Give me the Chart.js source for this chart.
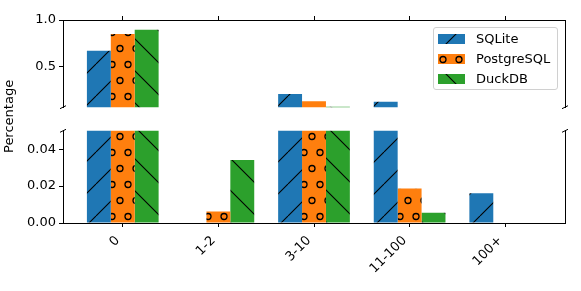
<!DOCTYPE html>
<html lang="en">
<head>
<meta charset="UTF-8">
<title>Percentage by bucket</title>
<script src="https://cdn.jsdelivr.net/npm/chart.js"></script>
<style>
    body { margin: 0; background: #fff; font-family: "DejaVu Sans", sans-serif; }
    #wrap { position: relative; width: 581px; height: 291px; overflow: hidden; }
    canvas.panel { position: absolute; left: 0; }
    #topChart { top: 0; }
    #bottomChart { top: 120px; }
    #ylabel {
        position: absolute; left: 1px; top: 78px; height: 76px; width: 16px;
        writing-mode: vertical-rl; transform: rotate(180deg);
        text-align: center; line-height: 16px;
        font-size: 13px; white-space: nowrap; color: #000; font-weight: normal;
    }
    #legend {
        position: absolute; left: 433px; top: 27px; width: 125px; height: 63px;
        box-sizing: border-box; border: 1px solid #d0d0d0; border-radius: 3px;
        background: rgba(255, 255, 255, 0.85); z-index: 2;
    }
    .item { position: absolute; left: 4px; height: 20px; display: flex; align-items: center; font-size: 13px; color: #000; }
    .swatch { width: 27px; height: 10px; margin-right: 11px; }
</style>
</head>
<body>
<div id="wrap">
    <canvas id="topChart" class="panel" width="581" height="118"></canvas>
    <canvas id="bottomChart" class="panel" width="581" height="171"></canvas>
    <div id="ylabel">Percentage</div>
    <div id="legend"></div>
</div>

<script>
    // data
    const categories = ['0', '1-2', '3-10', '11-100', '100+'];
    const sqlite   = [0.672, 0, 0.21, 0.127, 0.0162];
    const postgres = [0.85, 0.0062, 0.133, 0.0187, 0];
    const duckdb   = [0.897, 0.0341, 0.076, 0.0055, 0];
    const topTicks = [0.5, 1.0];
    const bottomTicks = [0, 0.02, 0.04];
    const topRange = [0.07, 1.0];
    const bottomRange = [0, 0.05];

    Chart.defaults.font.family = 'DejaVu Sans';
    Chart.defaults.font.size = 13;
    Chart.defaults.color = '#000';

    // hatch tiles, like matplotlib '/', 'o' and '\\'
    function makeTile(color, kind) {
        const c = document.createElement('canvas');
        c.width = kind === 'o' ? 16 : 32;
        c.height = 32;
        const g = c.getContext('2d');
        g.fillStyle = color;
        g.fillRect(0, 0, c.width, c.height);
        g.strokeStyle = '#000';
        g.lineWidth = 1.1;
        if (kind === '/') {
            for (const o of [-32, 0, 32]) {
                g.beginPath(); g.moveTo(o, 32); g.lineTo(o + 32, 0); g.stroke();
            }
        } else if (kind === '\\') {
            for (const o of [-32, 0, 32]) {
                g.beginPath(); g.moveTo(o, 0); g.lineTo(o + 32, 32); g.stroke();
            }
        } else {
            g.lineWidth = 1.3;
            for (const [cx, cy] of [[8, 16.5], [0, 0.5], [16, 0.5], [0, 32.5], [16, 32.5]]) {
                g.beginPath(); g.arc(cx, cy, 3, 0, Math.PI * 2); g.stroke();
            }
        }
        return c;
    }

    const series = [
        { label: 'SQLite', values: sqlite, color: '#1f77b4', hatch: '/' },
        { label: 'PostgreSQL', values: postgres, color: '#ff7f0e', hatch: 'o' },
        { label: 'DuckDB', values: duckdb, color: '#2ca02c', hatch: '\\' }
    ];
    series.forEach(s => { s.tile = makeTile(s.color, s.hatch); });

    function makeDatasets(ctx) {
        return series.map(s => ({
            label: s.label,
            data: s.values.map((v, i) => ({ x: i, y: v })),
            backgroundColor: ctx.createPattern(s.tile, 'repeat'),
            borderWidth: 0
        }));
    }

    // little slanted marks where the axis is cut
    function breakMarks(edge) {
        return {
            id: 'breakMarks',
            afterDraw(chart) {
                const { ctx, chartArea: a } = chart;
                const y = edge === 'bottom' ? a.bottom : a.top;
                ctx.save();
                ctx.strokeStyle = '#000';
                ctx.lineWidth = 1;
                for (const x of [a.left, a.right]) {
                    ctx.beginPath(); ctx.moveTo(x - 3, y + 1.5); ctx.lineTo(x + 3, y - 1.5); ctx.stroke();
                }
                ctx.restore();
            }
        };
    }

    const xTicks = s => { s.ticks = categories.map((c, i) => ({ value: i })); };
    const common = {
        responsive: false,
        animation: false,
        devicePixelRatio: 1,
        plugins: { legend: { display: false }, tooltip: { enabled: false } },
        datasets: { bar: { categoryPercentage: 0.75, barPercentage: 1, clip: 0 } }
    };
    const rightSpine = {
        type: 'linear', position: 'right', min: 0, max: 1,
        ticks: { display: false }, grid: { display: false },
        border: { display: true, color: '#000', width: 1 },
        afterFit: s => { s.width = 0; }
    };

    const topCanvas = document.getElementById('topChart');
    new Chart(topCanvas, {
        type: 'bar',
        data: { datasets: makeDatasets(topCanvas.getContext('2d')) },
        options: {
            ...common,
            layout: { padding: { left: 13, right: 16, top: 16, bottom: 5 } },
            scales: {
                x: {
                    type: 'linear', position: 'top', min: -0.625, max: 4.625, offset: false,
                    afterBuildTicks: xTicks,
                    ticks: { display: false },
                    grid: { display: true, drawOnChartArea: false, offset: false, tickLength: 4, color: '#000' },
                    border: { display: true, color: '#000', width: 1 },
                    afterFit: s => { s.height = 4; }
                },
                y: {
                    type: 'linear', min: topRange[0], max: topRange[1],
                    afterBuildTicks: s => { s.ticks = topTicks.map(v => ({ value: v })); },
                    ticks: { callback: v => v.toFixed(1), padding: 3 },
                    grid: { drawOnChartArea: false, tickLength: 4, color: '#000' },
                    border: { color: '#000', width: 1 },
                    afterFit: s => { s.width = 50; }
                },
                yr: rightSpine
            }
        },
        plugins: [breakMarks('bottom')]
    });

    const bottomCanvas = document.getElementById('bottomChart');
    new Chart(bottomCanvas, {
        type: 'bar',
        data: { datasets: makeDatasets(bottomCanvas.getContext('2d')) },
        options: {
            ...common,
            layout: { padding: { left: 13, right: 16, top: 9, bottom: 8 } },
            scales: {
                x: {
                    type: 'linear', position: 'bottom', min: -0.625, max: 4.625, offset: false,
                    afterBuildTicks: xTicks,
                    ticks: { callback: v => categories[v], minRotation: 45, maxRotation: 45, padding: 6, labelOffset: -5 },
                    grid: { display: true, drawOnChartArea: false, offset: false, tickLength: 4, color: '#000' },
                    border: { display: true, color: '#000', width: 1 },
                    afterFit: s => { s.height = 60; }
                },
                y: {
                    type: 'linear', min: bottomRange[0], max: bottomRange[1],
                    afterBuildTicks: s => { s.ticks = bottomTicks.map(v => ({ value: v })); },
                    ticks: { callback: v => v.toFixed(2), padding: 3 },
                    grid: { drawOnChartArea: false, tickLength: 4, color: '#000' },
                    border: { color: '#000', width: 1 },
                    afterFit: s => { s.width = 50; }
                },
                yr: rightSpine
            }
        },
        plugins: [breakMarks('top')]
    });

    // legend box with hatched swatches
    const legend = document.getElementById('legend');
    series.forEach((s, i) => {
        const item = document.createElement('div');
        item.className = 'item';
        item.style.top = (0.5 + i * 20) + 'px';
        const sw = document.createElement('span');
        sw.className = 'swatch';
        sw.style.backgroundColor = s.color;
        sw.style.backgroundImage = 'url(' + s.tile.toDataURL() + ')';
        sw.style.backgroundPosition = '-3px -11px';
        item.appendChild(sw);
        item.appendChild(document.createTextNode(s.label));
        legend.appendChild(item);
    });
</script>
</body>
</html>
